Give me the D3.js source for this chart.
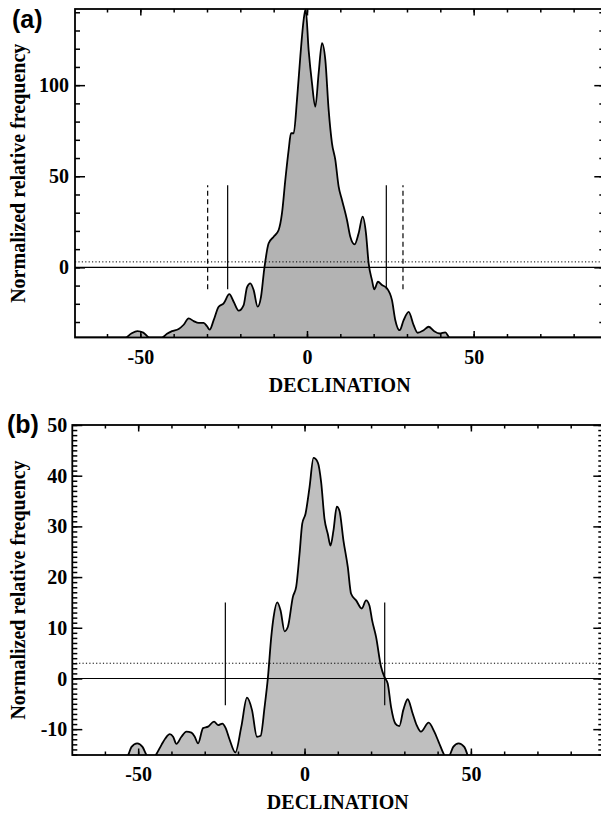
<!DOCTYPE html>
<html><head><meta charset="utf-8">
<script src="https://cdn.jsdelivr.net/npm/d3@7"></script>
<style>body{margin:0;background:#fff}svg{display:block}</style>
</head><body><svg id="c" width="601" height="813"></svg>
<script>
// ---------- data ----------
const xMajorTicks = [-50, 0, 50];
const xMinorTicks = [-60, -50, -40, -30, -20, -10, 0, 10, 20, 30, 40, 50, 60, 70, 80];
const xLabel = "DECLINATION";
const yLabel = "Normalized relative frequency";

// panel (a)
const declA = [-70, -54.5, -52.7, -50.9, -49.1, -47.3, -43.5, -42.0, -40.5, -38.5, -37.0, -35.5, -34.0, -32.5, -31.0, -30.0, -29.2, -28.0, -26.5, -25.0, -23.3, -22.0, -20.5, -19.0, -18.0, -17.0, -16.0, -14.8, -13.8, -12.8, -11.5, -10.0, -8.5, -7.5, -6.5, -5.5, -4.8, -4.0, -3.0, -2.0, -1.0, -0.4, 0.5, 1.5, 2.5, 3.5, 4.5, 5.5, 6.5, 7.5, 8.5, 9.5, 10.5, 12.0, 13.0, 14.3, 15.5, 16.7, 17.7, 18.5, 19.5, 20.2, 21.3, 22.5, 24.0, 25.5, 26.5, 27.8, 29.0, 30.5, 32.0, 33.2, 35.0, 36.5, 38.0, 39.8, 41.5, 42.8, 89];
const freqA = [-38.5, -38.5, -36.3, -35.0, -35.8, -38.5, -38.5, -36.5, -35.0, -33.8, -31.5, -28.0, -29.5, -30.5, -30.5, -32.3, -34.2, -29.0, -21.6, -19.8, -14.7, -18.9, -23.8, -20.7, -11.0, -8.8, -12.5, -21.6, -16.2, -0.5, 13.2, 16.8, 20.5, 29.7, 48.0, 64.5, 73.6, 73.6, 91.9, 115.7, 135.9, 141.8, 119.1, 101.1, 88.2, 106.6, 123.1, 113.9, 86.4, 68.1, 59.0, 44.3, 37.0, 26.0, 16.8, 12.6, 18.7, 27.8, 18.7, 2.2, -7.0, -12.1, -7.9, -9.7, -11.5, -18.0, -29.0, -34.5, -29.0, -24.4, -31.7, -35.9, -34.5, -32.6, -34.8, -36.3, -35.7, -38.5, -38.5];
const yMajorA = [0, 50, 100];
const yMinorA = [-30, -20, -10, 0, 10, 20, 30, 40, 50, 60, 70, 80, 90, 100, 110, 120, 130, 140];
const solidDeclA = [-23.8, 23.8];
const dashedDeclA = [-29.8, 28.8];
const markRangeA = [-12, 45];
const thresholdA = 3;

// panel (b)
const declB = [-70, -55, -53, -52, -50.3, -48.7, -47.5, -46, -44.7, -43, -41.8, -40.5, -39.5, -38.5, -37, -35.5, -34, -33, -32, -30.5, -29, -27.2, -26, -24.7, -23.7, -22.5, -20.8, -19, -17.3, -15.8, -14.3, -13.2, -12, -11, -10, -9.3, -8.2, -7.2, -6, -5, -3.5, -2.5, -1.5, -0.7, 0.3, 1.5, 2.7, 4, 5, 6, 7, 7.8, 8.7, 9.7, 10.5, 11.7, 13, 14, 15.5, 17.2, 18.5, 19.5, 20.3, 21.5, 23, 24, 25, 26, 27.3, 28.5, 29.7, 31, 32.5, 33.7, 35, 37.3, 39, 40.3, 42, 43, 43.7, 44.7, 46.3, 48, 49, 50, 89];
const freqB = [-17, -17, -15.1, -13.5, -12.8, -13.5, -15.1, -16, -15.1, -13.1, -11.8, -11.0, -11.5, -12.9, -11.5, -10.5, -10.7, -11.5, -12.8, -9.8, -9.5, -8.5, -9.2, -8.9, -9.8, -12.1, -14.6, -9.5, -3.8, -6.2, -11.5, -11.3, -5.6, 0.2, 8.2, 12.1, 15.0, 13.4, 9.3, 10.2, 16.1, 18.1, 24.6, 30.5, 32.5, 37.7, 43.5, 42.6, 38.7, 31.5, 28.5, 26.2, 29.2, 33.9, 33.1, 27.2, 22.0, 16.7, 15.4, 13.8, 15.4, 14.4, 11.5, 8.2, 2.3, 0.3, -1.0, -5.6, -8.9, -9.4, -6.2, -4.1, -6.9, -9.2, -10.5, -8.7, -10.5, -12.5, -15.1, -16, -15.1, -13.5, -12.8, -13.5, -15.1, -17, -17];
const yMajorB = [-10, 0, 10, 20, 30, 40, 50];
const yMinorB = d3.range(-15, 51, 1);
const solidDeclB = [-23.8, 24.1];
const markRangeB = [-5.3, 15];
const thresholdB = 3;

// ---------- drawing ----------
const svg = d3.select("#c");
const serif = "'Liberation Serif','Times New Roman',serif";
const fmt = d => String(d);   // plain hyphen minus, as in the reference

function panel(opt) {
  const {x, y, decl, freq, fill, id} = opt;
  const [x0, x1] = x.range();
  const [yb, yt] = y.range();
  const g = svg.append("g");
  g.append("clipPath").attr("id", id).append("rect")
    .attr("x", x0).attr("y", yt).attr("width", x1 - x0).attr("height", yb - yt);
  const pts = decl.map((d, i) => [d, freq[i]]);
  const area = d3.area().x(d => x(d[0])).y0(yb).y1(d => y(d[1])).curve(d3.curveMonotoneX);
  const line = d3.line().x(d => x(d[0])).y(d => y(d[1])).curve(d3.curveMonotoneX);
  const pg = g.append("g").attr("clip-path", `url(#${id})`);
  pg.append("path").attr("d", area(pts)).attr("fill", fill).attr("stroke", "none");
  pg.append("path").attr("d", line(pts)).attr("fill", "none").attr("stroke", "#000").attr("stroke-width", 1.8).attr("stroke-linejoin", "round");
  // horizontal lines
  pg.append("line").attr("x1", x0).attr("x2", x1).attr("y1", y(0)).attr("y2", y(0)).attr("stroke", "#000").attr("stroke-width", 1.1);
  pg.append("line").attr("x1", x0).attr("x2", x1).attr("y1", y(opt.threshold)).attr("y2", y(opt.threshold))
    .attr("stroke", "#000").attr("stroke-width", 1).attr("stroke-dasharray", "1.2,2.2");
  // vertical markers
  opt.solid.forEach(d => pg.append("line").attr("x1", x(d)).attr("x2", x(d))
    .attr("y1", y(opt.markRange[0])).attr("y2", y(opt.markRange[1])).attr("stroke", "#000").attr("stroke-width", 1.2));
  (opt.dashed || []).forEach(d => pg.append("line").attr("x1", x(d)).attr("x2", x(d))
    .attr("y1", y(opt.markRange[0])).attr("y2", y(opt.markRange[1])).attr("stroke", "#000").attr("stroke-width", 1.2)
    .attr("stroke-dasharray", "5,3.5"));

  // axes
  const style = sel => {
    sel.select(".domain").remove();
    sel.selectAll("line").attr("stroke", "#000").attr("stroke-width", 1.5);
    sel.selectAll("text").attr("font-family", serif).attr("font-weight", "bold").attr("font-size", 20).attr("fill", "#000");
  };
  g.append("g").attr("transform", `translate(0,${yb})`)
    .call(d3.axisBottom(x).tickValues(xMinorTicks).tickSize(-3.5).tickFormat("")).call(style);
  g.append("g").attr("transform", `translate(0,${yb})`)
    .call(d3.axisBottom(x).tickValues(xMajorTicks).tickSize(-6.5).tickPadding(12).tickFormat(fmt)).call(style);
  g.append("g").attr("transform", `translate(0,${yt})`)
    .call(d3.axisTop(x).tickValues(xMinorTicks).tickSize(-3.5).tickFormat("")).call(style);
  g.append("g").attr("transform", `translate(0,${yt})`)
    .call(d3.axisTop(x).tickValues(xMajorTicks).tickSize(-6.5).tickFormat("")).call(style);
  g.append("g").attr("transform", `translate(${x0},0)`)
    .call(d3.axisLeft(y).tickValues(opt.yMinor).tickSize(-opt.minorLen).tickFormat("")).call(style);
  g.append("g").attr("transform", `translate(${x0},0)`)
    .call(d3.axisLeft(y).tickValues(opt.yMajor).tickSize(-10).tickPadding(opt.yPad).tickFormat(fmt)).call(style)
    .selectAll("text").attr("dy", "0.33em");
  g.append("g").attr("transform", `translate(${x1},0)`)
    .call(d3.axisRight(y).tickValues(opt.yMinor).tickSize(-opt.minorLen).tickFormat("")).call(style);
  g.append("g").attr("transform", `translate(${x1},0)`)
    .call(d3.axisRight(y).tickValues(opt.yMajor).tickSize(-10).tickFormat("")).call(style);
  // frame
  g.append("rect").attr("x", x0).attr("y", yt).attr("width", x1 - x0).attr("height", yb - yt)
    .attr("fill", "none").attr("stroke", "#000").attr("stroke-width", 1.8);
  // titles
  g.append("text").attr("x", (x0 + x1) / 2).attr("y", yb + 54).attr("text-anchor", "middle")
    .attr("font-family", serif).attr("font-weight", "bold").attr("font-size", 20).text(xLabel);
  g.append("text").attr("transform", `translate(25,${(yt + yb) / 2}) rotate(-90)`).attr("text-anchor", "middle")
    .attr("font-family", serif).attr("font-weight", "bold").attr("font-size", 20).text(yLabel);
  g.append("text").attr("x", opt.tagX).attr("y", opt.tagY)
    .attr("font-family", "'Liberation Sans',Arial,sans-serif").attr("font-weight", "bold").attr("font-size", 25).text(opt.tag);
}

panel({
  id: "clipA", tag: "(a)", tagX: 12, tagY: 28,
  x: d3.scaleLinear([-69.6, 89.2], [75, 604.3]),
  y: d3.scaleLinear([-38.5, 141.8], [337.5, 9]),
  decl: declA, freq: freqA, fill: "#b3b3b3",
  yMajor: yMajorA, yMinor: yMinorA, minorLen: 5, yPad: 6,
  solid: solidDeclA, dashed: dashedDeclA, markRange: markRangeA, threshold: thresholdA
});
panel({
  id: "clipB", tag: "(b)", tagX: 7, tagY: 433,
  x: d3.scaleLinear([-69.8, 89.8], [72.3, 603.3]),
  y: d3.scaleLinear([-15.1, 50], [755, 425]),
  decl: declB, freq: freqB, fill: "#bfbfbf",
  yMajor: yMajorB, yMinor: yMinorB, minorLen: 5, yPad: 5,
  solid: solidDeclB, dashed: [], markRange: markRangeB, threshold: thresholdB
});
</script></body></html>
